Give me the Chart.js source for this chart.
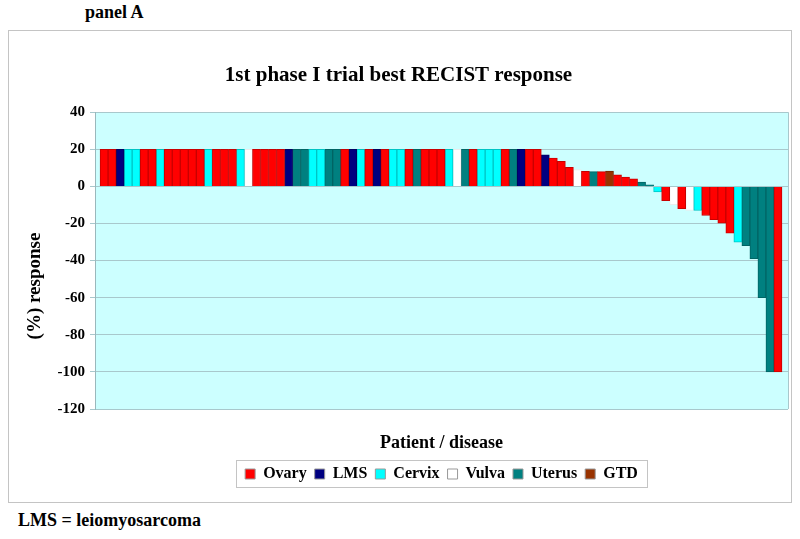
<!DOCTYPE html>
<html>
<head>
<meta charset="utf-8">
<script src="https://cdn.jsdelivr.net/npm/chart.js@4.4.1/dist/chart.umd.min.js"></script>
<style>
  body { margin: 0; background: #fff; font-family: 'Liberation Serif', 'Times New Roman', serif; font-weight: bold; color: #000; }
  #panel { position: absolute; left: 85px; top: 2px; font-size: 18px; }
  #box { position: absolute; left: 8px; top: 30px; width: 782px; height: 471px; border: 1px solid #c4c4c4; }
  #note { position: absolute; left: 18px; top: 510px; font-size: 18px; }
</style>
</head>
<body>
<div id="panel">panel A</div>
<div id="box"><canvas id="chart"></canvas></div>
<div id="note">LMS = leiomyosarcoma</div>
<script>
// disease groups (legend order)
const diseases = ['Ovary', 'LMS', 'Cervix', 'Vulva', 'Uterus', 'GTD'];
const diseaseCodes = ['O', 'L', 'C', 'V', 'U', 'G'];
const diseaseColors = ['#ff0000', '#000080', '#00ffff', '#ffffff', '#008080', '#993300'];
const diseaseBorders = ['#c80000', '#000060', '#00c4c4', '#ececec', '#006464', '#742600'];

// one entry per patient, sorted by best response
const patientDisease = [
  'O','O','L','C','C','O','O','C','O','O',
  'O','O','O','C','O','O','O','C','V','O',
  'O','O','O','L','U','U','C','C','U','U',
  'O','L','C','O','L','O','C','C','O','U',
  'O','O','O','C','V','U','O','C','C','C',
  'O','U','L','O','O','L','O','O','O','V',
  'O','U','O','G','O','O','O','U','U','C',
  'O','V','O','V','C','O','O','O','O','C',
  'U','U','U','U','O'
];
const responses = [
  20, 20, 20, 20, 20, 20, 20, 20, 20, 20,
  20, 20, 20, 20, 20, 20, 20, 20, 20, 20,
  20, 20, 20, 20, 20, 20, 20, 20, 20, 20,
  20, 20, 20, 20, 20, 20, 20, 20, 20, 20,
  20, 20, 20, 20, 20, 20, 20, 20, 20, 20,
  20, 20, 20, 20, 20, 17, 15.3, 13.5, 10.3, 9.1,
  8.1, 8, 8, 8.2, 6.3, 5, 4.1, 2.3, 0.9, -3,
  -7.7, -9.9, -12, -13, -13, -15.7, -18, -19.8, -25.2, -30,
  -32, -39, -60, -100, -100
];
const yTicks = [40, 20, 0, -20, -40, -60, -80, -100, -120];

// patient number on a linear axis, one unit per bar
const datasets = diseases.map((name, k) => ({
  label: name,
  data: responses
    .map((v, i) => ({ x: i + 1, y: v, d: patientDisease[i] }))
    .filter(p => p.d === diseaseCodes[k]),
  backgroundColor: diseaseColors[k],
  borderColor: diseaseBorders[k],
  borderWidth: 1,
  categoryPercentage: 1,
  barPercentage: 1
}));

const serif = "'Liberation Serif', 'Times New Roman', serif";
Chart.defaults.font.family = serif;
Chart.defaults.color = '#000';

// plot area fill + right edge
const plotBackground = {
  id: 'plotBackground',
  beforeDraw(chart) {
    const {ctx, chartArea: a} = chart;
    ctx.save();
    ctx.fillStyle = '#ccffff';
    ctx.fillRect(a.left, a.top, a.right - a.left, a.bottom - a.top);
    ctx.strokeStyle = '#a8c8cc';
    ctx.lineWidth = 1;
    ctx.beginPath();
    ctx.moveTo(a.right + 0.5, a.top);
    ctx.lineTo(a.right + 0.5, a.bottom);
    ctx.stroke();
    ctx.restore();
  }
};

// box round the legend and the y title
const extras = {
  id: 'extras',
  afterDraw(chart) {
    const {ctx} = chart;
    const boxes = chart.legend.legendHitBoxes;
    const left = Math.min(...boxes.map(b => b.left)) - 9;
    const right = Math.max(...boxes.map(b => b.left + b.width)) + 9;
    const mid = boxes[0].top + boxes[0].height / 2;
    ctx.save();
    ctx.strokeStyle = '#c4c4c4';
    ctx.lineWidth = 1;
    ctx.strokeRect(Math.round(left) + 0.5, Math.round(mid - 14) + 0.5, Math.round(right - left), 27);

    ctx.font = 'bold 19px ' + serif;
    ctx.fillStyle = '#000';
    ctx.textAlign = 'center';
    ctx.textBaseline = 'middle';
    ctx.translate(26, 255);
    ctx.rotate(-Math.PI / 2);
    ctx.fillText('(%) response', 0, 0);
    ctx.restore();
  }
};

new Chart(document.getElementById('chart'), {
  type: 'bar',
  data: { datasets: datasets },
  options: {
    responsive: true,
    maintainAspectRatio: false,
    animation: false,
    layout: { padding: { left: 0, right: 3, top: 0, bottom: 10 } },
    scales: {
      x: {
        type: 'linear',
        stacked: true,
        offset: false,
        min: -0.13,
        max: responses.length + 1.25,
        grid: { display: false },
        border: { display: false },
        ticks: { display: false },
        title: {
          display: true,
          text: 'Patient / disease',
          font: { size: 18, weight: 'bold' },
          padding: { top: 0, bottom: 4 }
        },
        afterFit(scale) { scale.height = 49; }
      },
      y: {
        stacked: true,
        min: -120,
        max: 40,
        afterBuildTicks(scale) { scale.ticks = yTicks.map(v => ({ value: v })); },
        grid: { color: '#a8c8cc', tickLength: 5 },
        border: { color: '#9ab8bc' },
        ticks: { font: { size: 15, weight: 'bold' }, padding: 5 },
        afterFit(scale) { scale.width = 86; }
      }
    },
    plugins: {
      title: {
        display: true,
        text: '1st phase I trial best RECIST response',
        font: { size: 21, weight: 'bold' },
        padding: { top: 32, bottom: 24 }
      },
      legend: {
        position: 'bottom',
        fullSize: false,
        labels: {
          boxWidth: 10,
          boxHeight: 10,
          padding: 8,
          font: { size: 16, weight: 'bold' },
          generateLabels(chart) {
            const items = Chart.defaults.plugins.legend.labels.generateLabels(chart);
            items.forEach(it => { it.strokeStyle = '#999'; it.lineWidth = 1; });
            return items;
          }
        }
      },
      tooltip: { enabled: false }
    }
  },
  plugins: [plotBackground, extras]
});
</script>
</body>
</html>
